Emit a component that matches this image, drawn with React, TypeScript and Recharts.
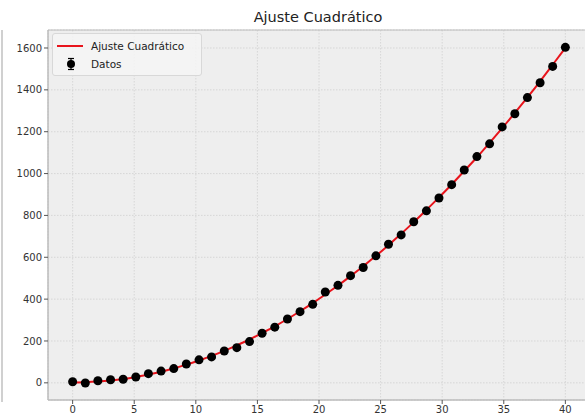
import React from 'react';
import {
  ComposedChart,
  Line,
  Scatter,
  XAxis,
  YAxis,
  CartesianGrid,
  ReferenceArea,
} from 'recharts';

// x positions (40 evenly spaced samples from 0 to 40)
const xValues = [
  0, 1.03, 2.05, 3.08, 4.1, 5.13, 6.15, 7.18, 8.21, 9.23,
  10.26, 11.28, 12.31, 13.33, 14.36, 15.38, 16.41, 17.44, 18.46, 19.49,
  20.51, 21.54, 22.56, 23.59, 24.62, 25.64, 26.67, 27.69, 28.72, 29.74,
  30.77, 31.79, 32.82, 33.85, 34.87, 35.9, 36.92, 37.95, 38.97, 40,
];

// measured data points
const datos = [
  5, -1, 10, 15, 17, 28, 44, 56, 68, 90,
  110, 124, 152, 168, 197, 237, 266, 305, 340, 375,
  434, 466, 512, 551, 607, 662, 707, 770, 822, 883,
  947, 1017, 1081, 1142, 1223, 1286, 1363, 1434, 1512, 1603,
];

// quadratic fit evaluated at the same x positions
const ajuste = [
  2, 3, 6, 11, 18, 28, 40, 53, 69, 87,
  107, 129, 153, 179, 207, 238, 270, 305, 342, 381,
  422, 465, 510, 557, 607, 658, 712, 768, 826, 886,
  948, 1012, 1078, 1147, 1217, 1290, 1364, 1441, 1520, 1601,
];

const xTicks = [0, 5, 10, 15, 20, 25, 30, 35, 40];
const yTicks = [0, 200, 400, 600, 800, 1000, 1200, 1400, 1600];

const fitRows = xValues.map((x, i) => ({ x, fit: ajuste[i] }));
const dataRows = xValues.map((x, i) => ({ x, y: datos[i] }));

const FONT = '"DejaVu Sans", sans-serif';

function LegendBox() {
  return (
    <div
      style={{
        position: 'absolute',
        left: 52,
        top: 33,
        width: 148,
        height: 41,
        background: 'rgba(245,245,245,0.85)',
        border: '1px solid #d8d8d8',
        borderRadius: 3,
        fontFamily: FONT,
        fontSize: 10.5,
        color: '#222',
      }}
    >
      <svg width={148} height={41} style={{ position: 'absolute', left: 0, top: 0 }}>
        <line x1={4} y1={12} x2={30} y2={12} stroke="#e8141c" strokeWidth={2} />
        <line x1={18} y1={24} x2={18} y2={36} stroke="#000" strokeWidth={1.2} />
        <line x1={15} y1={24.5} x2={21} y2={24.5} stroke="#000" strokeWidth={1.2} />
        <line x1={15} y1={35.5} x2={21} y2={35.5} stroke="#000" strokeWidth={1.2} />
        <circle cx={18} cy={30} r={4} fill="#000" />
        <text x={38} y={16} fontFamily={FONT} fontSize={10.5} fill="#222">
          Ajuste Cuadrático
        </text>
        <text x={38} y={34} fontFamily={FONT} fontSize={10.5} fill="#222">
          Datos
        </text>
      </svg>
    </div>
  );
}

export default function App() {
  return (
    <div
      style={{
        position: 'fixed',
        left: 0,
        top: 0,
        width: 585,
        height: 413,
        overflow: 'hidden',
        background: '#fff',
      }}
    >
      {/* notebook cell edge */}
      <div
        style={{
          position: 'absolute',
          left: 1,
          top: 30,
          width: 2,
          height: 372,
          background: '#d0d0d0',
        }}
      />
      <div
        style={{
          position: 'absolute',
          left: 0,
          top: 9,
          width: 636,
          textAlign: 'center',
          fontFamily: FONT,
          fontSize: 14.5,
          lineHeight: '16px',
          color: '#222',
        }}
      >
        Ajuste Cuadrático
      </div>
      <div style={{ position: 'absolute', left: 0, top: 0 }}>
        <ComposedChart
          width={595}
          height={413}
          data={fitRows}
          margin={{ top: 30, right: 5, bottom: 0, left: 8 }}
        >
          <CartesianGrid
            fill="#eeeeee"
            stroke="#d0d0d0"
            strokeDasharray="1.5 1.5"
            strokeWidth={0.8}
          />
          <ReferenceArea
            x1={-2}
            x2={42}
            y1={-82}
            y2={1686}
            fill="none"
            stroke="#bcbcbc"
            strokeWidth={1}
            ifOverflow="extendDomain"
          />
          <XAxis
            dataKey="x"
            type="number"
            domain={[-2, 42]}
            ticks={xTicks}
            allowDataOverflow
            height={13}
            tickSize={4}
            tickLine={{ stroke: '#555' }}
            axisLine={{ stroke: '#bcbcbc' }}
            tick={{ fontSize: 10, fill: '#333', fontFamily: FONT }}
          />
          <YAxis
            type="number"
            domain={[-82, 1686]}
            ticks={yTicks}
            allowDataOverflow
            width={40}
            tickSize={4}
            tickLine={{ stroke: '#555' }}
            axisLine={{ stroke: '#bcbcbc' }}
            tick={{ fontSize: 10, fill: '#333', fontFamily: FONT }}
          />
          <Line
            type="monotone"
            dataKey="fit"
            stroke="#e8141c"
            strokeWidth={2}
            dot={false}
            isAnimationActive={false}
          />
          <Scatter
            data={dataRows}
            dataKey="y"
            fill="#000"
            shape={(props: any) => <circle cx={props.cx} cy={props.cy} r={4.5} fill="#000" />}
            isAnimationActive={false}
          />
        </ComposedChart>
      </div>
      <LegendBox />
    </div>
  );
}
